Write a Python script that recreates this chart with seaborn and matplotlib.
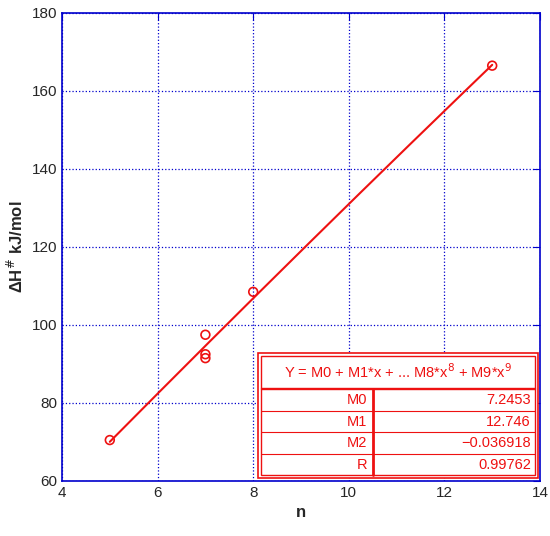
import numpy as np
import matplotlib
matplotlib.use("Agg")
import matplotlib.pyplot as plt
import seaborn as sns
from matplotlib.patches import Rectangle

sns.set_style("white")
plt.rcParams['font.family'] = ['Liberation Sans', 'DejaVu Sans']

n_vals = [5, 7, 7, 7, 8, 13]
dh_vals = [70.5, 97.5, 92.5, 91.5, 108.5, 166.5]
coef_names = ["M0", "M1", "M2", "R"]
coef_vals = [7.2453, 12.746, -0.036918, 0.99762]
coef_text = ["7.2453", "12.746", "\u22120.036918", "0.99762"]

red = "#ee1111"
blue = "#0000cc"

fig = plt.figure(figsize=(5.5, 5.36), dpi=100)
ax = fig.add_axes([62/550, 1-481/536, 478/550, 468/536])

xs = np.linspace(min(n_vals), max(n_vals), 200)
ys = coef_vals[0] + coef_vals[1]*xs + coef_vals[2]*xs**2
sns.lineplot(x=xs, y=ys, ax=ax, color=red, lw=1.5)
sns.scatterplot(x=n_vals, y=dh_vals, ax=ax, marker="o", s=40,
                facecolors="none", edgecolor=red, linewidth=1.2)

ax.set_xlim(4, 14)
ax.set_ylim(60, 180)
ax.set_xticks(range(4, 15, 2))
ax.set_yticks(range(60, 181, 20))
ax.grid(True, color=blue, ls=":", lw=0.9)
for s in ax.spines.values():
    s.set_color(blue); s.set_linewidth(1.2)
ax.tick_params(direction="in", top=True, right=True, color=blue, labelsize=11, length=5)
ax.set_xlabel("n", fontsize=12, fontweight="bold")
ax.set_ylabel("ΔH$^{\\#}$ kJ/mol", fontsize=12, fontweight="bold")

# table
L, R, T, B = 0.41, 0.996, 0.274, 0.006
tr = ax.transAxes
ax.add_patch(Rectangle((L, B), R-L, T-B, transform=tr, facecolor="white",
                       edgecolor=red, lw=1.2, zorder=5))
d = 0.006
ax.add_patch(Rectangle((L+d, B+d), R-L-2*d, T-B-2*d, transform=tr, facecolor="none",
                       edgecolor=red, lw=1.0, zorder=6))
hdr_h = 32/468
top_in = T-d
row_top = top_in-hdr_h
ax.plot([L+d, R-d], [row_top, row_top], transform=tr, color=red, lw=1.0, zorder=6)
ax.plot([L+d, R-d], [row_top-0.004, row_top-0.004], transform=tr, color=red, lw=1.0, zorder=6)
ax.text((L+R)/2, top_in-hdr_h/2, "Y = M0 + M1*x + ... M8*x$^{8}$ + M9*x$^{9}$",
        transform=tr, ha="center", va="center", color=red, fontsize=10.5, zorder=7)
rt = row_top-0.004
rh = (rt-(B+d))/4
cx = 0.651
ax.plot([cx, cx], [B+d, rt], transform=tr, color=red, lw=2.0, zorder=6)
for i, (nm, tx) in enumerate(zip(coef_names, coef_text)):
    yc = rt-(i+0.5)*rh
    if i > 0:
        ax.plot([L+d, R-d], [rt-i*rh]*2, transform=tr, color=red, lw=0.8, zorder=6)
    ax.text(cx-0.012, yc, nm, transform=tr, ha="right", va="center", color=red, fontsize=10.5, zorder=7)
    ax.text(R-0.015, yc, tx, transform=tr, ha="right", va="center", color=red, fontsize=10.5, zorder=7)

fig.savefig("out.png", dpi=100)
